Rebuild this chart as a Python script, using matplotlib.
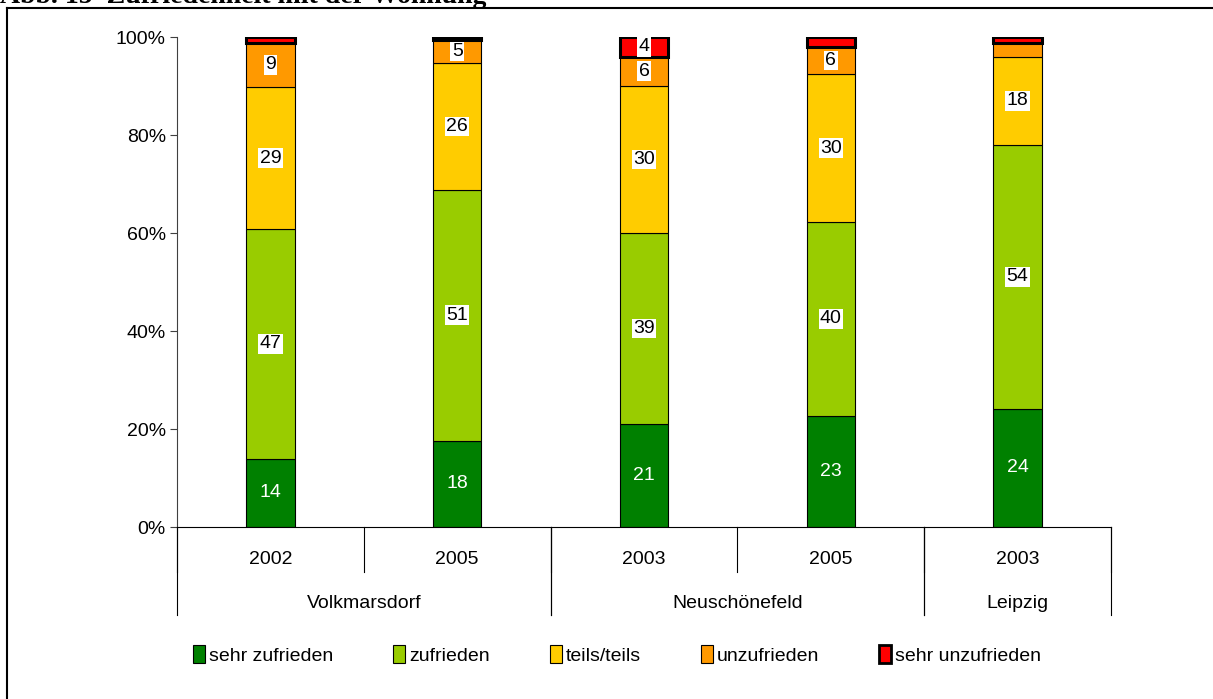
import matplotlib.pyplot as plt
import numpy as np
from matplotlib.patches import Patch
from matplotlib.lines import Line2D

plt.rcParams['font.family'] = ['Liberation Sans', 'DejaVu Sans']

# Daten (Anteile in %)
jahre = ['2002', '2005', '2003', '2005', '2003']
gebiete = ['Volkmarsdorf', 'Neuschönefeld', 'Leipzig']
gebiet_spannen = [(0, 2), (2, 4), (4, 5)]

sehr_zufrieden = [13.9, 17.6, 21.0, 22.7, 24.1]
zufrieden = [46.9, 51.2, 39.0, 39.5, 53.9]
teils_teils = [29.0, 25.9, 30.0, 30.2, 18.0]
unzufrieden = [9.0, 4.7, 6.0, 5.6, 2.8]
sehr_unzufrieden = [1.2, 0.6, 4.0, 2.0, 1.2]

kategorien = ['sehr zufrieden', 'zufrieden', 'teils/teils', 'unzufrieden', 'sehr unzufrieden']
farben = ['#008000', '#99CC00', '#FFCC00', '#FF9900', '#FF0000']

W, H = 1213, 699
fs = 14
fig = plt.figure(figsize=(W / 100, H / 100), dpi=100)
ax = fig.add_axes([177 / W, (H - 527) / H, (1111 - 177) / W, (527 - 37) / H])

# Rahmen um das Diagramm
fig.add_artist(Line2D([7 / W, 7 / W], [0, 1 - 8 / H], color='black', lw=1.5,
                      transform=fig.transFigure))
fig.add_artist(Line2D([7 / W, 1], [1 - 8 / H, 1 - 8 / H], color='black', lw=1.5,
                      transform=fig.transFigure))
fig.text(0, 1 - 3 / H, 'Abb. 15  Zufriedenheit mit der Wohnung', ha='left',
         va='baseline', fontsize=20, fontweight='bold', family='Liberation Serif')

x = np.arange(len(jahre))
serien = [sehr_zufrieden, zufrieden, teils_teils, unzufrieden, sehr_unzufrieden]
unten = np.zeros(len(jahre))
for i, (werte, farbe) in enumerate(zip(serien, farben)):
    werte = np.array(werte)
    lw = 2.2 if i == 4 else 0.8
    ax.bar(x, werte, width=0.26, bottom=unten, color=farbe, edgecolor='black',
           linewidth=lw, zorder=2)
    for xi, b, v in zip(x, unten, werte):
        if v >= 3.5:
            if i == 0:
                ax.text(xi, b + v / 2, f'{v:.0f}', ha='center', va='center',
                        color='white', fontsize=fs, zorder=4)
            else:
                ax.text(xi, b + v / 2, f'{v:.0f}', ha='center', va='center',
                        color='black', fontsize=fs, zorder=4,
                        bbox=dict(facecolor='white', edgecolor='none', pad=1))
    unten += werte

ax.set_xlim(-0.5, len(jahre) - 0.5)
ax.set_ylim(0, 100)
ax.set_yticks(np.arange(0, 101, 20))
ax.set_yticklabels([f'{v}%' for v in range(0, 101, 20)], fontsize=fs)
ax.tick_params(axis='y', length=5, width=0.8, color='#404040', pad=3)
ax.spines['top'].set_visible(False)
ax.spines['right'].set_visible(False)
ax.spines['left'].set_color('#404040')
ax.spines['bottom'].set_color('black')

# mehrstufige Kategorienachse
ax.set_xticks([])
trans = ax.get_xaxis_transform()
for gr in np.arange(len(jahre) + 1) - 0.5:
    ax.plot([gr, gr], [0, -45 / 490], color='black', lw=0.8, transform=trans,
            clip_on=False)
for a, b in gebiet_spannen:
    for gr in (a - 0.5, b - 0.5):
        ax.plot([gr, gr], [0, -88 / 490], color='black', lw=0.8, transform=trans,
                clip_on=False)
for xi, j in zip(x, jahre):
    ax.text(xi, -30 / 490, j, ha='center', va='center_baseline', fontsize=fs,
            transform=trans)
for (a, b), g in zip(gebiet_spannen, gebiete):
    ax.text((a + b - 1) / 2, -75 / 490, g, ha='center', va='center_baseline',
            fontsize=fs, transform=trans)

handles = [Patch(facecolor=f, edgecolor='black', linewidth=2 if i == 4 else 0.8)
           for i, f in enumerate(farben)]
fig.legend(handles, kategorien, loc='center', bbox_to_anchor=(617 / W, 1 - 655 / H),
           ncol=5, frameon=False, fontsize=fs, handlelength=0.6, handleheight=1.0,
           handletextpad=0.2, columnspacing=3.1)

fig.savefig('out.png', dpi=100)
